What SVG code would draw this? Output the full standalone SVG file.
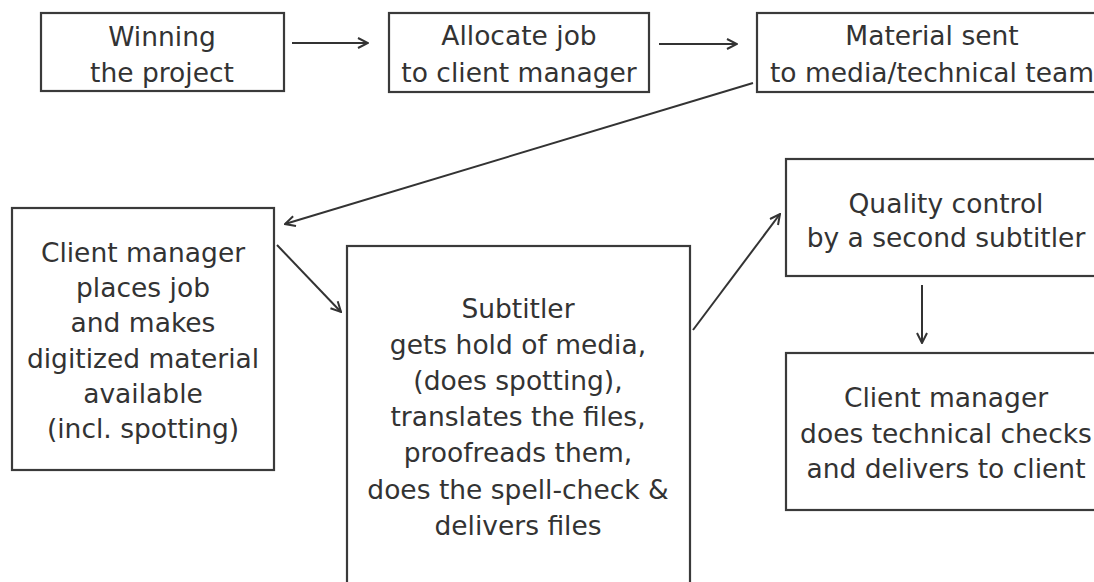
<svg xmlns="http://www.w3.org/2000/svg" width="1094" height="582" viewBox="0 0 1094 582">
<defs>
<style>
.box{fill:#fff;stroke:#3a3a3a;stroke-width:2.2}
.t{font-family:"DejaVu Sans","Verdana",sans-serif;font-size:26.5px;fill:#333;text-anchor:middle}
.c{fill:none;stroke:#333;stroke-width:2}
</style>
<marker id="ah" viewBox="0 0 12 12" refX="11" refY="6" markerWidth="12" markerHeight="12" markerUnits="userSpaceOnUse" orient="auto">
<path d="M1,1 L11,6 L1,11" fill="none" stroke="#333" stroke-width="2"/>
</marker>
</defs>
<rect width="1094" height="582" fill="#fff"/>
<g id="n1"><rect class="box" x="41" y="13" width="243" height="78"/><text class="t" x="162" y="46">Winning</text><text class="t" x="162" y="82">the project</text></g>
<g id="n2"><rect class="box" x="389" y="13" width="260" height="79"/><text class="t" x="519" y="45">Allocate job</text><text class="t" x="519" y="82">to client manager</text></g>
<g id="n3"><rect class="box" x="757" y="13" width="355" height="79"/><text class="t" x="932" y="45">Material sent</text><text class="t" x="932" y="82">to media/technical team</text></g>
<g id="n4"><rect class="box" x="12" y="208" width="262" height="262"/>
<text class="t" x="143" y="262">Client manager</text>
<text class="t" x="143" y="297">places job</text>
<text class="t" x="143" y="332">and makes</text>
<text class="t" x="143" y="368">digitized material</text>
<text class="t" x="143" y="403">available</text>
<text class="t" x="143" y="438">(incl. spotting)</text></g>
<g id="n5"><rect class="box" x="347" y="246" width="343" height="350"/>
<text class="t" x="518" y="318">Subtitler</text>
<text class="t" x="518" y="354">gets hold of media,</text>
<text class="t" x="518" y="390">(does spotting),</text>
<text class="t" x="518" y="426">translates the files,</text>
<text class="t" x="518" y="462">proofreads them,</text>
<text class="t" x="518" y="499">does the spell-check &amp;</text>
<text class="t" x="518" y="535">delivers files</text></g>
<g id="n6"><rect class="box" x="786" y="159" width="330" height="117"/><text class="t" x="946" y="213">Quality control</text><text class="t" x="946" y="247">by a second subtitler</text></g>
<g id="n7"><rect class="box" x="786" y="353" width="330" height="157"/><text class="t" x="946" y="407">Client manager</text><text class="t" x="946" y="443">does technical checks</text><text class="t" x="946" y="478">and delivers to client</text></g>
<g id="connectors">
<line class="c" x1="292" y1="43" x2="368" y2="43" marker-end="url(#ah)"/>
<line class="c" x1="659" y1="44" x2="737" y2="44" marker-end="url(#ah)"/>
<line class="c" x1="753" y1="83" x2="285" y2="224" marker-end="url(#ah)"/>
<line class="c" x1="277" y1="245" x2="341" y2="312" marker-end="url(#ah)"/>
<line class="c" x1="693" y1="330" x2="780" y2="214" marker-end="url(#ah)"/>
<line class="c" x1="922" y1="285" x2="922" y2="343" marker-end="url(#ah)"/>
</g>
</svg>
